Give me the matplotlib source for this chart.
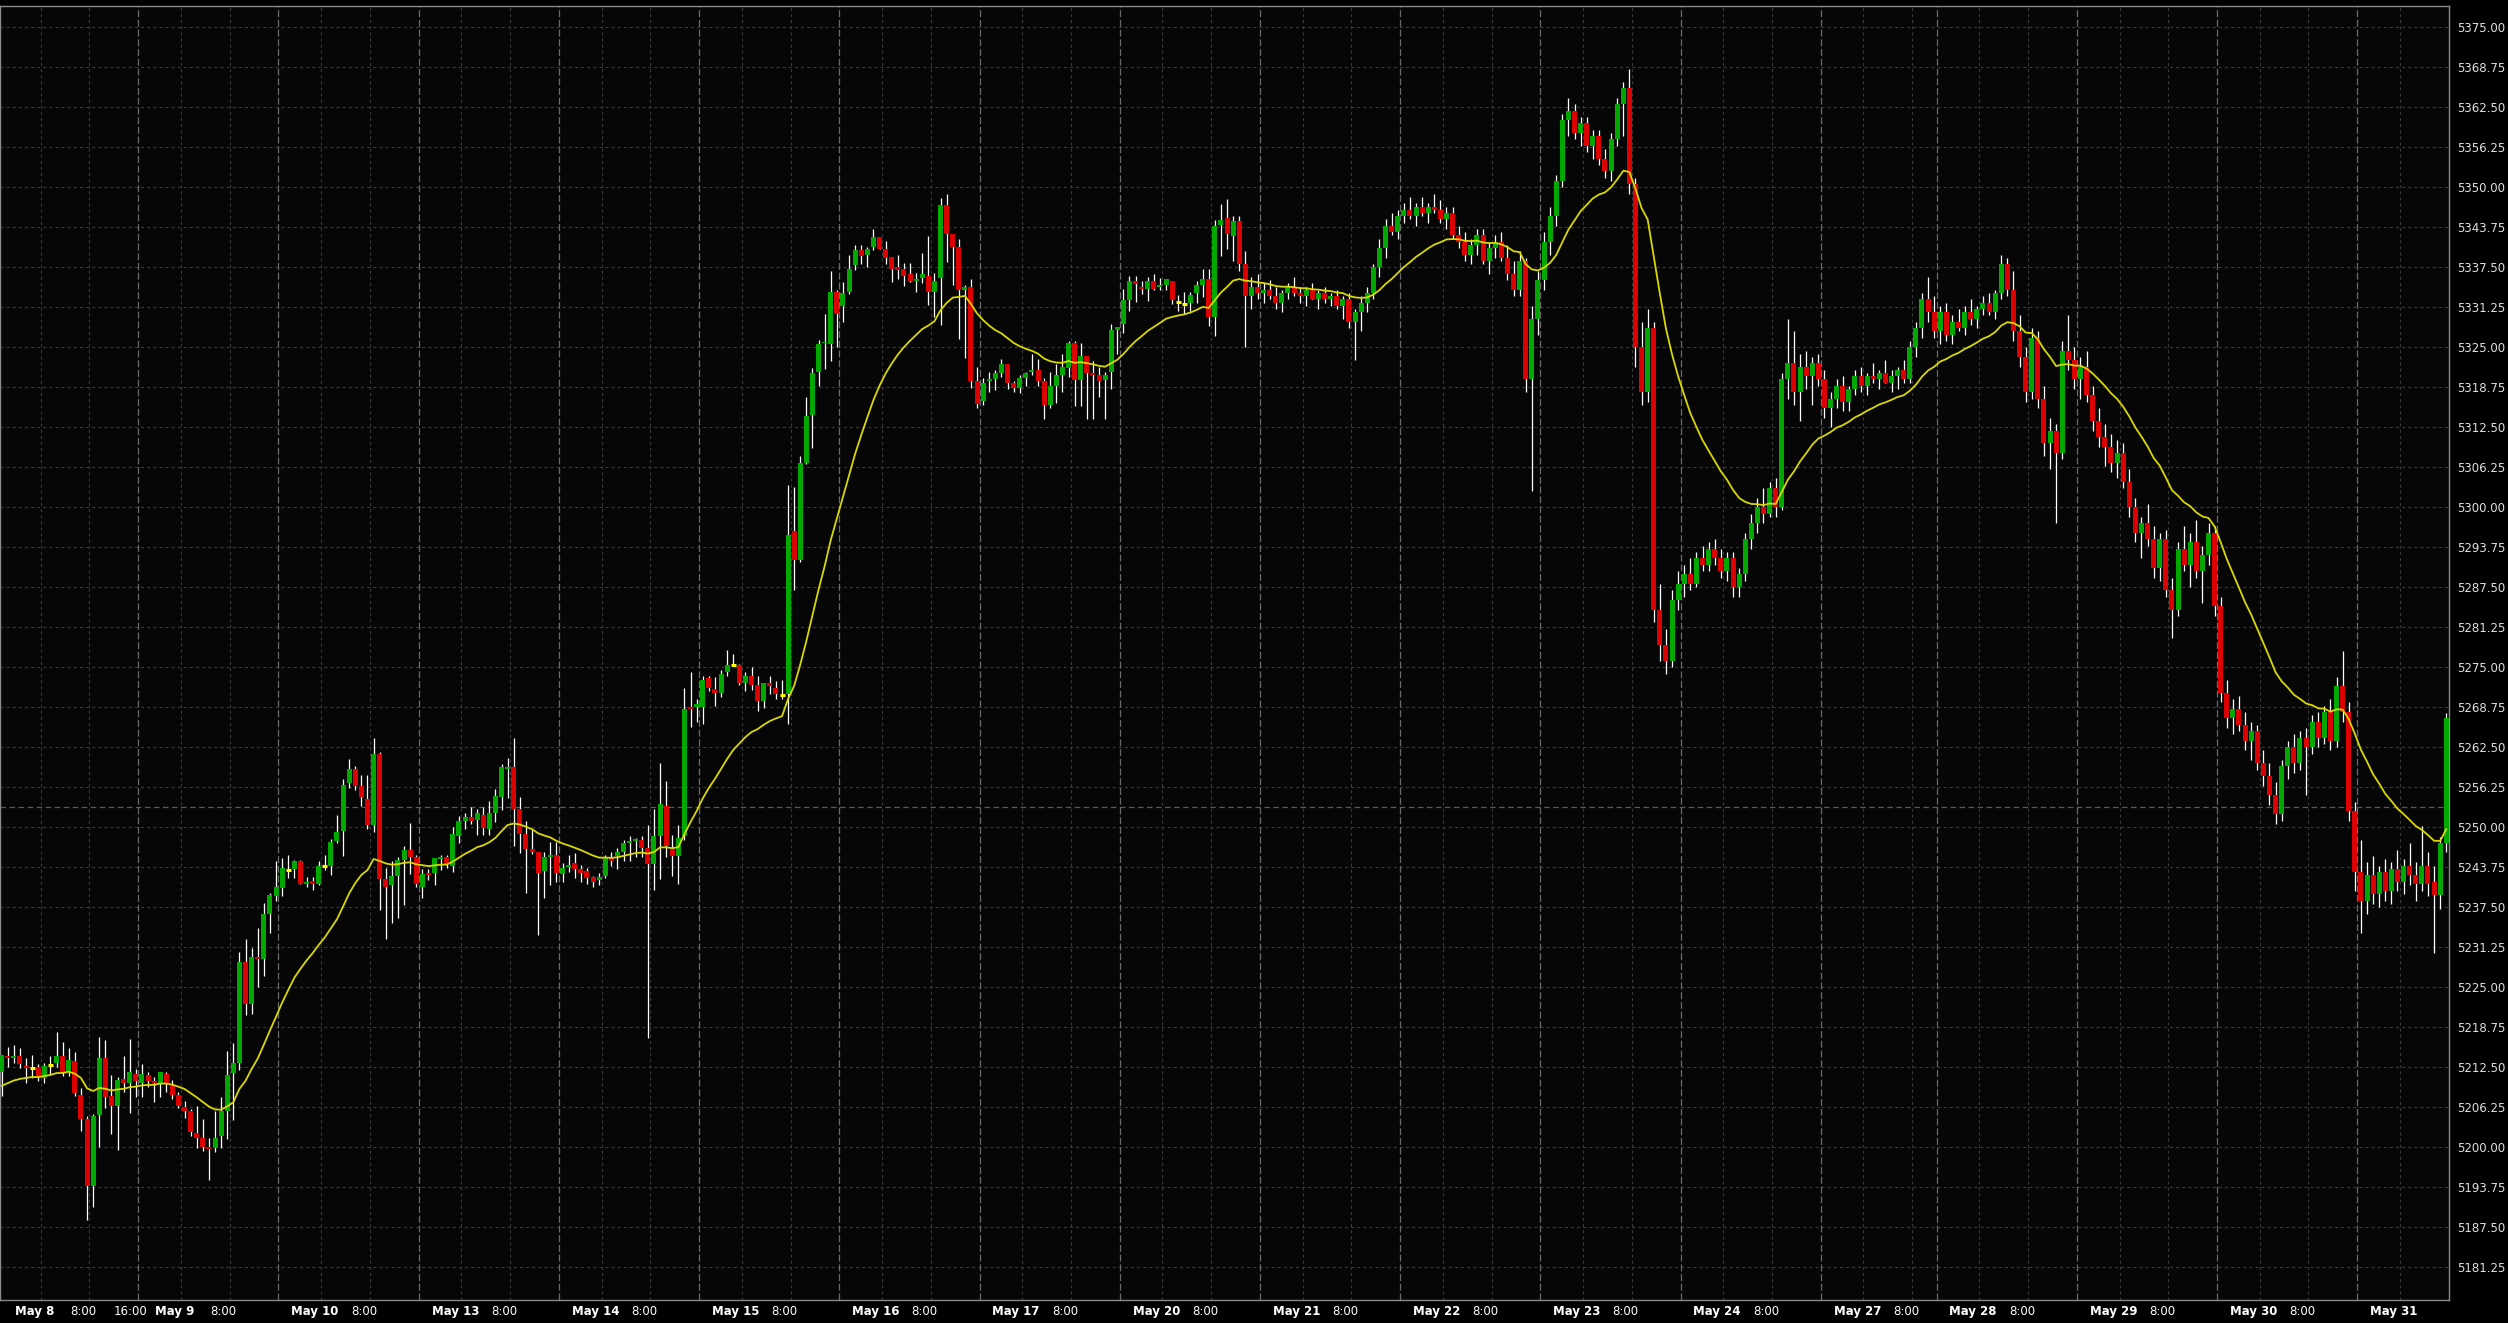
import numpy as np
import matplotlib
matplotlib.use("Agg")
import matplotlib.pyplot as plt

plt.rcParams["font.family"] = ["DejaVu Sans"]
plt.rcParams["lines.scale_dashes"] = False

# trading sessions (Globex, hourly bars from 18:00) and number of hourly bars in each
sessions = ["May 8", "May 9", "May 10", "May 13", "May 14", "May 15", "May 16",
            "May 17", "May 20", "May 21", "May 22", "May 23", "May 24", "May 27",
            "May 28", "May 29", "May 30", "May 31"]
session_bars = [23, 23, 23, 23, 23, 23, 23, 23, 23, 23, 23, 23, 23, 19, 23, 23, 23, 15]

# hourly OHLC
opens = [5211.8, 5214.3, 5214.0, 5214.3, 5212.7, 5212.4, 5212.5, 5210.8, 5212.9, 5213.1,
         5214.3, 5211.9, 5213.5, 5208.2, 5204.4, 5193.9, 5205.0, 5213.9, 5208.0, 5206.4,
         5210.7, 5210.1, 5211.5, 5210.1, 5211.3, 5210.3, 5210.0, 5211.5, 5209.6, 5208.2,
         5206.3, 5205.7, 5202.2, 5201.5, 5200.1, 5199.8, 5201.8, 5205.6, 5211.6, 5213.2,
         5229.0, 5222.4, 5229.7, 5229.4, 5236.5, 5239.2, 5240.5, 5243.3, 5243.5, 5244.7,
         5241.2, 5241.6, 5241.2, 5243.9, 5243.9, 5247.9, 5249.4, 5256.9, 5259.1, 5256.5,
         5254.4, 5250.4, 5261.5, 5241.9, 5240.9, 5242.4, 5244.9, 5246.5, 5245.3, 5240.7,
         5242.9, 5242.9, 5245.0, 5245.4, 5244.0, 5248.7, 5251.0, 5251.6, 5251.1, 5251.9,
         5249.7, 5252.2, 5254.8, 5259.1, 5259.4, 5252.8, 5249.0, 5246.6, 5246.1, 5243.2,
         5245.4, 5245.7, 5242.7, 5243.8, 5244.4, 5243.5, 5243.2, 5242.2, 5241.7, 5242.4,
         5245.3, 5245.5, 5246.1, 5247.6, 5247.8, 5248.0, 5246.8, 5244.2, 5248.6, 5253.3,
         5246.6, 5245.5, 5248.6, 5268.8, 5268.8, 5268.8, 5273.3, 5271.6, 5271.0, 5274.3,
         5275.4, 5275.3, 5272.6, 5273.7, 5272.3, 5269.7, 5272.6, 5271.8, 5270.7, 5270.9,
         5296.3, 5291.8, 5306.9, 5314.5, 5321.1, 5325.6, 5325.5, 5333.6, 5331.5, 5333.6,
         5337.8, 5340.2, 5339.5, 5340.7, 5342.3, 5340.4, 5339.1, 5337.5, 5337.2, 5336.4,
         5335.4, 5335.8, 5336.1, 5333.6, 5335.8, 5347.2, 5342.7, 5340.7, 5334.0, 5334.4,
         5319.8, 5316.6, 5319.8, 5320.0, 5321.0, 5322.4, 5319.4, 5318.6, 5320.2, 5321.2,
         5321.4, 5319.8, 5316.0, 5319.0, 5320.7, 5321.8, 5325.7, 5319.9, 5323.7, 5321.0,
         5320.6, 5319.9, 5321.1, 5327.7, 5328.6, 5332.4, 5335.4, 5334.5, 5334.1, 5335.4,
         5334.4, 5334.7, 5335.4, 5332.1, 5331.8, 5331.9, 5333.5, 5334.7, 5335.7, 5329.8,
         5344.1, 5345.2, 5342.4,
         5344.8, 5338.0, 5333.0, 5334.5, 5333.5, 5334.0, 5333.0, 5332.0, 5333.5, 5334.5,
         5333.5, 5333.0, 5334.0, 5332.5, 5333.5, 5332.5, 5333.0, 5331.5, 5332.5, 5329.0,
         5330.5, 5332.0, 5333.5, 5337.5, 5340.5, 5344.0, 5343.0, 5345.5, 5346.5, 5345.5,
         5347.0, 5346.0, 5347.0, 5346.5, 5345.0, 5346.0, 5342.5, 5341.5, 5339.5, 5341.0,
         5342.5, 5338.5, 5340.5, 5341.5, 5339.0, 5336.5, 5334.0, 5338.5, 5320.0, 5329.5,
         5335.5, 5341.5, 5345.5, 5351.0, 5360.5, 5362.0, 5358.5, 5360.0, 5356.5, 5358.0,
         5354.5, 5352.5, 5357.5, 5363.0, 5365.5, 5350.5, 5325.0, 5318.0, 5328.0, 5284.0,
         5278.5, 5276.0, 5285.5, 5288.0, 5289.5, 5288.0, 5292.0, 5291.0, 5293.5, 5292.0,
         5290.0, 5292.0, 5287.5, 5289.5, 5295.0, 5297.5, 5300.0, 5299.0, 5303.0, 5300.0,
         5320.0, 5322.5, 5318.0, 5322.0, 5320.5, 5322.5, 5320.0, 5315.5, 5317.0, 5319.0,
         5316.5, 5318.5, 5320.5, 5319.0, 5320.5, 5320.0, 5321.0, 5319.5, 5320.5, 5321.5,
         5320.0, 5325.0, 5328.0, 5332.5, 5330.5, 5327.5, 5330.5, 5327.0, 5329.0, 5328.0,
         5330.5, 5329.5, 5331.0, 5332.0, 5330.5, 5333.5, 5338.0, 5334.0, 5327.5, 5323.5,
         5318.0, 5326.5, 5317.0, 5310.0, 5312.0, 5308.5, 5324.5, 5323.0, 5320.0, 5322.0,
         5317.5, 5313.5, 5311.0, 5309.5, 5307.0, 5308.5, 5304.0, 5300.0, 5296.0, 5297.5,
         5295.0, 5290.5, 5295.0, 5287.0, 5284.0, 5293.5, 5291.0, 5294.5, 5290.0, 5292.5,
         5296.0, 5284.5, 5271.0, 5267.0, 5268.5, 5266.0, 5263.5, 5265.0, 5260.0, 5258.0,
         5255.0, 5252.0, 5259.5, 5262.5, 5260.0, 5264.0, 5262.5, 5266.5, 5264.0, 5268.0,
         5263.5, 5272.0, 5268.0, 5252.5, 5243.0, 5238.5, 5242.5, 5239.5, 5243.0, 5240.0,
         5243.5, 5241.5, 5244.0, 5242.5, 5241.1, 5243.9, 5241.5, 5239.4, 5247.5]
highs = [5214.4, 5215.7, 5216.0, 5215.5, 5213.9, 5214.4, 5213.0, 5213.2, 5214.2, 5218.0,
         5216.4, 5215.5, 5214.8, 5209.2, 5204.8, 5205.2, 5217.3, 5216.8, 5211.3, 5211.0,
         5214.3, 5216.9, 5212.2, 5213.0, 5211.8, 5211.0, 5211.8, 5211.8, 5210.5, 5208.7,
         5207.2, 5206.0, 5206.4, 5204.4, 5201.5, 5205.6, 5207.8, 5215.0, 5216.3, 5230.5,
         5232.6, 5231.1, 5234.2, 5238.1, 5239.8, 5244.7, 5245.2, 5245.7, 5244.9, 5244.9,
         5242.3, 5242.3, 5244.7, 5245.7, 5248.2, 5251.9, 5257.5, 5260.7, 5259.6, 5258.2,
         5258.2, 5264.0, 5261.7, 5243.6, 5244.7, 5245.4, 5247.0, 5250.6, 5245.7, 5243.5,
         5243.5, 5245.2, 5245.7, 5245.7, 5250.0, 5251.7, 5252.2, 5253.1, 5252.8, 5253.1,
         5254.1, 5256.0, 5259.9, 5260.8, 5263.9, 5254.8, 5251.0, 5249.8, 5246.1, 5246.1,
         5247.7, 5247.7, 5244.4, 5245.7, 5245.9, 5244.1, 5243.6, 5242.4, 5242.8, 5245.7,
         5246.1, 5246.7, 5248.0, 5248.6, 5248.3, 5248.6, 5250.3, 5252.8, 5260.0, 5257.3,
         5248.8, 5250.4, 5271.7, 5274.2, 5270.1, 5273.7, 5273.7, 5273.5, 5274.6, 5277.7,
         5277.0, 5275.5, 5274.3, 5275.0, 5273.7, 5272.5, 5273.7, 5272.9, 5273.0, 5303.5,
         5303.2, 5308.0, 5317.2, 5321.8, 5326.1, 5330.2, 5336.9, 5334.0, 5335.2, 5339.4,
         5341.0, 5341.0, 5340.6, 5343.5, 5342.3, 5341.6, 5339.1, 5339.4, 5338.1, 5338.1,
         5336.6, 5339.7, 5342.4, 5336.6, 5348.4, 5348.9, 5342.7, 5341.9, 5334.7, 5335.7,
         5321.9, 5320.2, 5321.2, 5321.5, 5323.2, 5322.4, 5319.8, 5320.6, 5321.1, 5324.0,
         5323.2, 5320.2, 5321.2, 5322.4, 5323.9, 5326.0, 5326.0, 5325.7, 5323.7, 5322.9,
         5321.9, 5321.2, 5328.6, 5328.2, 5334.1, 5336.1, 5336.1, 5335.4, 5336.0, 5336.5,
         5335.8, 5335.7, 5335.4, 5333.2, 5333.6, 5333.6, 5335.4, 5337.2, 5337.2, 5344.9,
         5347.4, 5348.2, 5345.5,
         5345.5, 5340.0, 5336.0, 5336.5, 5335.0, 5335.5, 5334.5, 5334.0, 5335.0, 5336.0,
         5334.5, 5334.5, 5335.0, 5334.0, 5334.5, 5333.5, 5334.0, 5333.0, 5333.5, 5331.0,
         5333.0, 5334.5, 5338.0, 5342.0, 5345.0, 5346.0, 5346.5, 5347.5, 5348.5, 5347.5,
         5348.5, 5347.5, 5349.0, 5348.0, 5347.0, 5347.0, 5344.0, 5343.0, 5342.0, 5343.5,
         5343.5, 5341.5, 5342.5, 5343.0, 5341.0, 5338.5, 5340.0, 5339.0, 5331.5, 5337.0,
         5343.0, 5347.0, 5352.0, 5361.5, 5364.0, 5363.0, 5361.0, 5361.0, 5359.0, 5359.0,
         5356.0, 5358.5, 5364.0, 5366.5, 5368.5, 5351.5, 5329.0, 5331.0, 5329.0, 5288.0,
         5281.0, 5287.0, 5290.0, 5291.0, 5292.0, 5293.0, 5294.0, 5294.5, 5295.0, 5293.5,
         5293.0, 5293.0, 5290.5, 5296.0, 5299.0, 5301.5, 5303.0, 5304.0, 5304.5, 5321.0,
         5329.5, 5327.5, 5324.0, 5324.5, 5323.5, 5324.0, 5321.5, 5318.0, 5320.0, 5320.5,
         5319.0, 5321.5, 5322.0, 5321.0, 5322.5, 5321.5, 5323.0, 5321.5, 5322.0, 5323.0,
         5326.0, 5329.0, 5333.5, 5336.0, 5333.0, 5331.5, 5332.0, 5330.0, 5331.0, 5331.5,
         5332.5, 5331.5, 5333.0, 5333.5, 5334.0, 5339.5, 5339.0, 5337.0, 5330.0, 5325.0,
         5328.0, 5327.5, 5319.0, 5314.0, 5313.0, 5326.0, 5330.0, 5325.0, 5323.5, 5324.5,
         5319.0, 5315.5, 5313.0, 5311.5, 5310.5, 5310.0, 5306.0, 5301.5, 5298.5, 5300.5,
         5297.0, 5296.0, 5296.5, 5289.0, 5294.5, 5297.0, 5296.0, 5298.0, 5294.0, 5297.5,
         5297.0, 5286.0, 5273.0, 5270.0, 5270.5, 5268.0, 5266.5, 5266.0, 5262.0, 5260.0,
         5257.0, 5260.5, 5263.5, 5264.5, 5265.0, 5265.5, 5267.5, 5268.0, 5269.0, 5270.0,
         5273.5, 5277.5, 5269.5, 5254.0, 5248.0, 5244.5, 5245.5, 5244.0, 5245.0, 5244.5,
         5246.5, 5245.0, 5247.5, 5244.5, 5250.2, 5246.2, 5243.9, 5248.5, 5267.8]
lows = [5208.0, 5212.6, 5213.1, 5212.3, 5210.1, 5210.8, 5210.4, 5210.0, 5211.3, 5212.6,
        5211.1, 5211.1, 5208.0, 5202.6, 5188.6, 5190.7, 5200.1, 5206.2, 5202.1, 5199.6,
        5208.7, 5205.4, 5207.9, 5207.9, 5209.4, 5207.1, 5207.9, 5208.7, 5207.6, 5206.2,
        5204.6, 5201.7, 5199.9, 5199.4, 5194.9, 5199.2, 5199.9, 5201.3, 5204.2, 5212.1,
        5220.6, 5220.8, 5225.1, 5226.7, 5233.4, 5238.5, 5239.3, 5242.1, 5242.1, 5241.2,
        5240.6, 5240.2, 5240.9, 5243.3, 5242.5, 5247.6, 5245.5, 5256.1, 5255.8, 5253.3,
        5249.7, 5249.3, 5237.1, 5232.5, 5235.0, 5235.8, 5237.9, 5242.7, 5240.6, 5239.0,
        5241.8, 5241.0, 5243.3, 5243.6, 5243.0, 5247.6, 5249.7, 5250.5, 5248.8, 5248.8,
        5248.8, 5250.8, 5252.7, 5254.6, 5247.1, 5246.0, 5239.8, 5245.8, 5233.1, 5239.0,
        5240.9, 5241.5, 5241.5, 5243.0, 5242.1, 5241.4, 5241.2, 5240.6, 5240.9, 5242.1,
        5244.0, 5243.4, 5244.7, 5244.8, 5245.4, 5245.4, 5217.0, 5240.2, 5241.9, 5245.3,
        5242.4, 5241.2, 5248.0, 5265.7, 5266.5, 5266.1, 5271.3, 5269.0, 5270.3, 5273.6,
        5275.2, 5272.3, 5271.3, 5271.5, 5268.2, 5268.7, 5270.9, 5270.0, 5270.0, 5266.2,
        5287.0, 5291.4, 5306.7, 5309.3, 5318.9, 5321.6, 5322.9, 5325.1, 5328.9, 5333.3,
        5337.1, 5338.0, 5337.6, 5340.2, 5340.4, 5338.0, 5335.2, 5335.6, 5334.6, 5335.2,
        5333.7, 5335.0, 5331.6, 5329.8, 5328.5, 5338.4, 5334.7, 5326.3, 5323.3, 5318.6,
        5315.5, 5316.0, 5318.0, 5318.4, 5320.3, 5318.5, 5318.0, 5317.9, 5318.9, 5320.6,
        5319.0, 5313.8, 5315.5, 5316.3, 5318.0, 5320.3, 5315.9, 5315.9, 5313.8, 5313.8,
        5317.2, 5313.8, 5318.5, 5323.9, 5327.2, 5330.7, 5332.1, 5333.3, 5332.3, 5333.9,
        5333.9, 5334.0, 5331.8, 5330.6, 5330.2, 5330.7, 5332.0, 5332.8, 5328.4, 5326.7,
        5339.3, 5340.3, 5338.5,
        5337.0, 5325.0, 5331.0, 5332.5, 5332.0, 5332.5, 5331.0, 5330.5, 5332.5, 5333.0,
        5332.0, 5331.5, 5332.5, 5331.0, 5332.0, 5331.5, 5331.0, 5329.5, 5328.0, 5323.0,
        5327.5, 5330.5, 5332.5, 5336.0, 5339.0, 5342.5, 5342.0, 5344.5, 5345.0, 5344.0,
        5345.5, 5344.5, 5346.0, 5344.5, 5343.5, 5342.0, 5340.5, 5338.5, 5338.0, 5339.5,
        5338.0, 5336.5, 5339.0, 5338.5, 5335.5, 5333.0, 5333.0, 5318.0, 5302.5, 5327.0,
        5334.0, 5339.5, 5344.0, 5350.0, 5358.0, 5357.5, 5356.5, 5355.5, 5354.5, 5353.5,
        5351.5, 5351.0, 5356.5, 5358.0, 5349.0, 5322.0, 5316.0, 5316.5, 5282.0, 5276.0,
        5274.0, 5275.0, 5284.0, 5286.0, 5287.0, 5287.5, 5290.0, 5290.0, 5291.0, 5289.0,
        5288.5, 5286.0, 5286.0, 5288.5, 5293.5, 5296.0, 5297.5, 5298.5, 5298.5, 5299.5,
        5317.0, 5316.0, 5313.5, 5318.5, 5316.0, 5319.0, 5314.0, 5312.5, 5315.5, 5315.0,
        5315.0, 5317.5, 5318.0, 5317.5, 5319.5, 5318.5, 5319.5, 5318.0, 5318.5, 5319.5,
        5319.5, 5323.5, 5326.5, 5329.0, 5326.5, 5325.5, 5326.0, 5325.5, 5327.5, 5327.0,
        5328.5, 5328.0, 5330.0, 5330.0, 5329.5, 5332.5, 5333.0, 5326.0, 5322.0, 5316.5,
        5317.0, 5315.5, 5308.0, 5306.0, 5297.5, 5307.5, 5321.5, 5318.5, 5317.0, 5316.5,
        5312.0, 5309.5, 5306.5, 5305.5, 5304.5, 5303.0, 5298.5, 5294.5, 5292.0, 5294.0,
        5289.0, 5288.5, 5286.0, 5279.5, 5283.0, 5290.0, 5287.5, 5289.0, 5285.0, 5291.0,
        5283.0, 5269.5, 5265.5, 5264.5, 5265.0, 5262.0, 5260.5, 5259.0, 5256.5, 5253.5,
        5250.5, 5251.0, 5257.5, 5258.5, 5259.0, 5255.0, 5261.5, 5262.5, 5263.0, 5262.0,
        5262.5, 5266.5, 5251.0, 5240.0, 5233.5, 5236.5, 5238.0, 5237.5, 5238.5, 5238.0,
        5240.0, 5239.5, 5241.0, 5238.5, 5240.1, 5239.2, 5230.3, 5237.3, 5246.1]
closes = [5214.4, 5214.0, 5214.3, 5213.0, 5212.3, 5212.4, 5210.8, 5212.7, 5212.9, 5214.3,
          5211.8, 5213.7, 5208.5, 5204.4, 5193.9, 5204.8, 5213.9, 5207.8, 5206.4, 5210.5,
          5210.1, 5211.8, 5210.3, 5211.5, 5210.3, 5210.0, 5211.8, 5209.9, 5208.1, 5206.5,
          5205.7, 5202.3, 5201.5, 5200.1, 5199.7, 5201.5, 5205.6, 5211.3, 5213.2, 5229.0,
          5222.4, 5229.7, 5229.4, 5236.5, 5239.4, 5240.6, 5243.6, 5243.3, 5244.7, 5241.2,
          5241.5, 5241.2, 5243.9, 5243.9, 5247.7, 5249.2, 5256.6, 5259.1, 5256.5, 5254.7,
          5250.4, 5261.5, 5241.9, 5240.6, 5242.4, 5244.9, 5246.5, 5245.3, 5241.2, 5242.7,
          5242.6, 5245.2, 5245.2, 5244.3, 5249.0, 5251.0, 5251.6, 5251.0, 5252.2, 5249.9,
          5252.2, 5254.9, 5259.4, 5259.4, 5252.8, 5249.0, 5246.6, 5246.2, 5242.9, 5245.4,
          5245.6, 5242.8, 5243.6, 5244.1, 5243.5, 5242.9, 5242.0, 5241.5, 5242.2, 5245.3,
          5244.8, 5246.1, 5247.6, 5247.9, 5248.1, 5246.8, 5244.3, 5248.6, 5253.6, 5247.0,
          5245.5, 5248.3, 5268.5, 5268.5, 5269.2, 5273.0, 5271.8, 5271.0, 5274.0, 5275.4,
          5275.4, 5272.6, 5273.7, 5272.3, 5269.7, 5272.5, 5272.1, 5270.9, 5270.7, 5295.7,
          5291.8, 5306.9, 5314.2, 5321.0, 5325.5, 5325.7, 5333.6, 5330.2, 5333.5, 5337.3,
          5340.2, 5339.2, 5340.4, 5342.3, 5340.4, 5339.0, 5337.3, 5337.1, 5336.1, 5335.4,
          5335.7, 5336.5, 5333.6, 5335.4, 5347.2, 5342.7, 5340.7, 5334.0, 5334.4, 5319.8,
          5316.2, 5319.4, 5320.1, 5321.0, 5322.4, 5319.4, 5318.6, 5320.2, 5321.0, 5321.4,
          5319.8, 5316.0, 5318.9, 5320.7, 5322.0, 5325.7, 5319.9, 5323.7, 5321.0, 5320.6,
          5319.8, 5320.7, 5327.7, 5328.2, 5332.4, 5335.4, 5334.9, 5334.1, 5335.4, 5334.1,
          5334.7, 5335.7, 5332.4, 5332.1, 5331.8, 5333.2, 5334.7, 5335.7, 5329.8, 5343.9,
          5344.9, 5342.7, 5344.8,
          5338.0, 5333.0, 5334.5, 5333.5, 5334.0, 5333.0, 5332.0, 5333.5, 5334.5, 5333.5,
          5333.0, 5334.0, 5332.5, 5333.5, 5332.5, 5333.0, 5331.5, 5332.5, 5329.0, 5330.5,
          5332.0, 5333.5, 5337.5, 5340.5, 5344.0, 5343.0, 5345.5, 5346.5, 5345.5, 5347.0,
          5346.0, 5347.0, 5346.5, 5345.0, 5346.0, 5342.5, 5341.5, 5339.5, 5341.0, 5342.5,
          5338.5, 5340.5, 5341.5, 5339.0, 5336.5, 5334.0, 5338.5, 5320.0, 5329.5, 5335.5,
          5341.5, 5345.5, 5351.0, 5360.5, 5362.0, 5358.5, 5360.0, 5356.5, 5358.0, 5354.5,
          5352.5, 5357.5, 5363.0, 5365.5, 5350.5, 5325.0, 5318.0, 5328.0, 5284.0, 5278.5,
          5276.0, 5285.5, 5288.0, 5289.5, 5288.0, 5292.0, 5291.0, 5293.5, 5292.0, 5290.0,
          5292.0, 5287.5, 5289.5, 5295.0, 5297.5, 5300.0, 5299.0, 5303.0, 5300.0, 5320.0,
          5322.5, 5318.0, 5322.0, 5320.5, 5322.5, 5320.0, 5315.5, 5317.0, 5319.0, 5316.5,
          5318.5, 5320.5, 5319.0, 5320.5, 5320.0, 5321.0, 5319.5, 5320.5, 5321.5, 5320.0,
          5325.0, 5328.0, 5332.5, 5330.5, 5327.5, 5330.5, 5327.0, 5329.0, 5328.0, 5330.5,
          5329.5, 5331.0, 5332.0, 5330.5, 5333.5, 5338.0, 5334.0, 5327.5, 5323.5, 5318.0,
          5326.5, 5317.0, 5310.0, 5312.0, 5308.5, 5324.5, 5323.0, 5320.0, 5322.0, 5317.5,
          5313.5, 5311.0, 5309.5, 5307.0, 5308.5, 5304.0, 5300.0, 5296.0, 5297.5, 5295.0,
          5290.5, 5295.0, 5287.0, 5284.0, 5293.5, 5291.0, 5294.5, 5290.0, 5292.5, 5296.0,
          5284.5, 5271.0, 5267.0, 5268.5, 5266.0, 5263.5, 5265.0, 5260.0, 5258.0, 5255.0,
          5252.0, 5259.5, 5262.5, 5260.0, 5264.0, 5262.5, 5266.5, 5264.0, 5268.0, 5263.5,
          5272.0, 5268.0, 5252.5, 5243.0, 5238.5, 5242.5, 5239.5, 5243.0, 5240.0, 5243.5,
          5241.5, 5244.0, 5242.5, 5241.1, 5243.9, 5241.1, 5239.4, 5247.6, 5267.1]

ema_period = 20
ema_start = 5209.6
ref_level = 5253.1

price_ticks = np.arange(5181.25, 5375.01, 6.25)

# ---- figure ----
fig = plt.figure(figsize=(25.08, 13.23), dpi=100, facecolor="#000000")
ax = fig.add_axes([0.0, 0.01776, 0.97648, 0.97752])
ax.set_facecolor("#060606")

o = np.array(opens)
h = np.array(highs)
l = np.array(lows)
c = np.array(closes)
x = np.arange(len(c))

up = c > o
down = c < o
flat = c == o
body = np.maximum(np.abs(c - o), 0.3)

ax.vlines(x, l, h, color="white", lw=0.9, zorder=3)
ax.bar(x[up], body[up], bottom=o[up], width=0.82, color="#00a800", lw=0, zorder=4)
ax.bar(x[down], body[down], bottom=c[down], width=0.82, color="#dd0000", lw=0, zorder=4)
ax.hlines(c[flat], x[flat] - 0.41, x[flat] + 0.41, color="#ffff00", lw=2.2, zorder=4)

alpha = 2.0 / (ema_period + 1)
ema = np.empty(len(c))
ema[0] = ema_start
for i in range(1, len(c)):
    ema[i] = ema[i - 1] + alpha * (c[i] - ema[i - 1])
ax.plot(x, ema, color="#d8d800", lw=1.3, zorder=5)

# grid
for v in price_ticks:
    ax.axhline(v, color="#3a3a3a", lw=0.8, ls=(0, (2.2, 2.2)), zorder=1)
ax.axhline(ref_level, color="#5a5a5a", lw=0.9, ls=(0, (4, 2.5)), zorder=1)

starts = np.cumsum([0] + session_bars[:-1])
total = sum(session_bars)
tick_pos, tick_lab, tick_bold = [], [], []
for k, (name, s0, n) in enumerate(zip(sessions, starts, session_bars)):
    for off in (6, 14):
        if s0 + off < total - 1:
            ax.axvline(s0 + off + 0.4, color="#3a3a3a", lw=0.8, ls=(0, (2.2, 2.2)), zorder=1)
    if s0 + n < total:
        ax.axvline(s0 + n - 0.6, color="#6a6a6a", lw=0.9, ls=(0, (5, 2)), zorder=1)
    tick_pos.append(s0 + 6 - 0.6)
    tick_lab.append(name)
    tick_bold.append(True)
    if s0 + 14 < total - 1:
        tick_pos.append(s0 + 14 - 0.6)
        tick_lab.append("8:00")
        tick_bold.append(False)
    if k == 0:
        tick_pos.append(s0 + 22 - 0.8)
        tick_lab.append("16:00")
        tick_bold.append(False)

ax.set_xticks(tick_pos)
ax.set_xticklabels(tick_lab)
for t, b in zip(ax.get_xticklabels(), tick_bold):
    t.set_fontweight("bold" if b else "normal")
ax.tick_params(axis="x", length=0, pad=4, labelsize=8.5, labelcolor="white")

ax.set_yticks(price_ticks)
ax.set_yticklabels([f"{v:.2f}" for v in price_ticks])
ax.yaxis.tick_right()
ax.tick_params(axis="y", length=0, pad=6, labelsize=8.5, labelcolor="#e0e0e0")

ax.set_xlim(-0.28, 401.45)
ax.set_ylim(5176.2, 5378.3)
for sp in ax.spines.values():
    sp.set_color("#8a8a8a")
    sp.set_linewidth(1.0)

fig.savefig("out.png", dpi=100, facecolor=fig.get_facecolor())
